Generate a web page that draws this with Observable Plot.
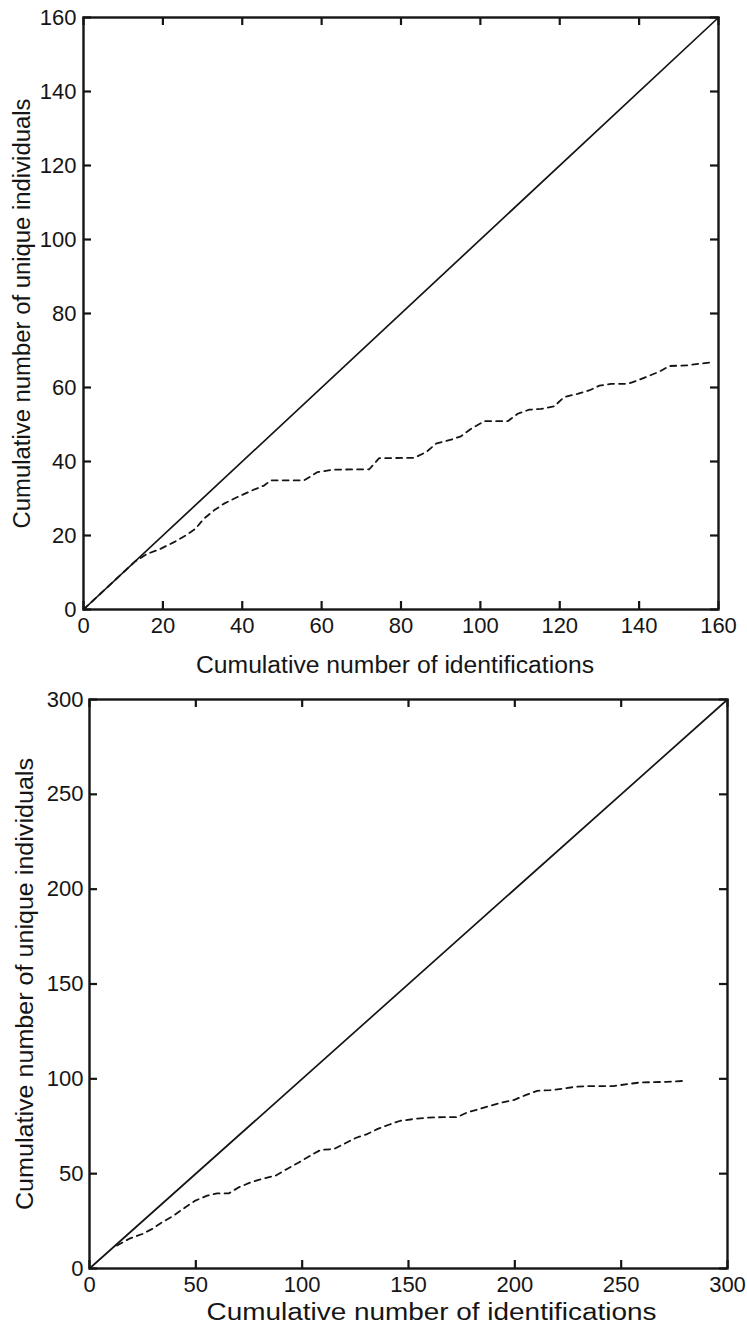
<!DOCTYPE html>
<html>
<head>
<meta charset="utf-8">
<script src="https://cdn.jsdelivr.net/npm/d3@7"></script>
<script src="https://cdn.jsdelivr.net/npm/@observablehq/plot@0.6"></script>
<style>
  body { margin: 0; background: #fff; }
  #chart svg { display: block; overflow: visible; }
</style>
</head>
<body>
<div id="chart"></div>
<script>
// ---- Data ----
const xLabel = "Cumulative number of identifications";
const yLabel = "Cumulative number of unique individuals";

// Top panel
const topTicks = [0, 20, 40, 60, 80, 100, 120, 140, 160];
const topDiagonal = [0, 160];
const topX = [0, 13, 16, 19.4, 22.8, 25.7, 28.2, 30.3, 32.9, 35.4, 38.8, 42.5, 45.5, 47.2, 55.6, 58.9, 63.1, 72, 74.5, 83.3, 86.3, 88.8, 92.6, 95.1, 97.6, 101, 106.9, 109.4, 112.3, 115.3, 118.6, 121.1, 124.5, 127.4, 130, 132.9, 137.1, 139.6, 142.6, 145.1, 147.6, 152.2, 158.1];
const topY = [0, 13, 15, 16.4, 18.2, 20, 21.8, 24.5, 26.8, 28.6, 30.4, 32.2, 33.5, 34.9, 34.9, 37.1, 37.8, 37.9, 40.9, 41, 42.5, 44.8, 45.9, 46.8, 48.8, 50.9, 50.9, 52.9, 54, 54.2, 54.9, 57.4, 58.3, 59.2, 60.5, 61, 61, 61.9, 63.2, 64.3, 65.8, 66, 66.8];

// Bottom panel
const botTicks = [0, 50, 100, 150, 200, 250, 300];
const botDiagonal = [0, 300];
const botX = [13, 18.5, 24.8, 29.5, 34.2, 39.6, 45.1, 49.8, 55.3, 60, 65.5, 70.2, 75.7, 81.9, 87.4, 92.9, 98.4, 103.9, 108.6, 114.9, 119.6, 125.1, 130.6, 135.3, 140.7, 146.2, 152.5, 159.5, 166.6, 172.9, 177.6, 183, 188.5, 194, 199.5, 205, 210.5, 216.7, 223, 228.5, 235.5, 246.5, 252.8, 259.1, 271.6, 279.4];
const botY = [12.1, 15.6, 18.2, 20.9, 24.4, 27.9, 32.3, 35.8, 38.4, 39.6, 39.6, 42.8, 45.4, 47.5, 48.9, 52.5, 55.9, 59.5, 62.5, 63, 65.6, 68.8, 70.9, 73.5, 75.8, 77.9, 78.8, 79.6, 79.8, 79.8, 82.3, 84, 85.8, 87.5, 88.8, 91.4, 93.7, 94, 94.9, 95.8, 96.2, 96.2, 97.2, 98.1, 98.4, 98.9];

const INK = "#151515";
const FONT = "'Liberation Sans', Arial, Helvetica, sans-serif";

function panel(cfg) {
  const {xs, ys, diag, ticks, width, height, m, xLabelDx, xLabelDy, yLabelDx, xLabelLen, yLabelLen, yTickPad} = cfg;
  const pw = width - m.left - m.right;
  const ph = height - m.top - m.bottom;
  const curve = xs.map((x, i) => ({x, y: ys[i]}));
  const diagPts = diag.map(v => ({x: v, y: v}));
  const dom = [diag[0], diag[1]];
  const svg = Plot.plot({
    width, height,
    marginLeft: m.left, marginRight: m.right, marginTop: m.top, marginBottom: m.bottom,
    style: {fontFamily: FONT, fontSize: "22px", color: INK, background: "#fff", overflow: "visible"},
    x: {domain: dom},
    y: {domain: dom},
    marks: [
      Plot.line(diagPts, {x: "x", y: "y", stroke: INK, strokeWidth: 1.7}),
      Plot.line(curve, {x: "x", y: "y", stroke: INK, strokeWidth: 1.8, strokeDasharray: "6,5"}),
      // inward ticks on all four sides
      Plot.ruleX(ticks, {x: d => d, stroke: INK, strokeWidth: 2.2, insetTop: ph - 8}),
      Plot.ruleX(ticks, {x: d => d, stroke: INK, strokeWidth: 2.2, insetBottom: ph - 8}),
      Plot.ruleY(ticks, {y: d => d, stroke: INK, strokeWidth: 2.2, insetRight: pw - 8}),
      Plot.ruleY(ticks, {y: d => d, stroke: INK, strokeWidth: 2.2, insetLeft: pw - 8}),
      Plot.frame({stroke: INK, strokeWidth: 2.4}),
      Plot.axisX({ticks, tickSize: 0, tickPadding: 8, label: null, fontSize: 22, fill: INK}),
      Plot.axisY({ticks, tickSize: 0, tickPadding: yTickPad, label: null, fontSize: 22, fill: INK}),
      Plot.text([xLabel], {text: d => d, frameAnchor: "bottom", textAnchor: "middle", lineAnchor: "middle", dx: xLabelDx, dy: xLabelDy, fontSize: 23, fill: INK}),
      Plot.text([yLabel], {text: d => d, frameAnchor: "left", textAnchor: "middle", lineAnchor: "middle", rotate: -90, dx: yLabelDx, fontSize: 23, fill: INK})
    ]
  });
  // stretch axis titles to match the reference's wide rendering
  svg.querySelectorAll("text").forEach(t => {
    if (t.textContent === xLabel) { t.setAttribute("textLength", xLabelLen); t.setAttribute("lengthAdjust", "spacingAndGlyphs"); }
    if (t.textContent === yLabel) { t.setAttribute("textLength", yLabelLen); t.setAttribute("lengthAdjust", "spacingAndGlyphs"); }
  });
  return svg;
}

const root = document.getElementById("chart");
root.append(panel({
  xs: topX, ys: topY, diag: topDiagonal, ticks: topTicks,
  width: 747, height: 680,
  m: {left: 83, right: 29, top: 17, bottom: 71},
  xLabelDx: -6, xLabelDy: 56.5, yLabelDx: -61,
  xLabelLen: 398, yLabelLen: 430, yTickPad: 7
}));
root.append(panel({
  xs: botX, ys: botY, diag: botDiagonal, ticks: botTicks,
  width: 747, height: 646,
  m: {left: 89, right: 20, top: 19, bottom: 58},
  xLabelDx: 23, xLabelDy: 44.5, yLabelDx: -64,
  xLabelLen: 450, yLabelLen: 452, yTickPad: 6
}));
</script>
</body>
</html>
